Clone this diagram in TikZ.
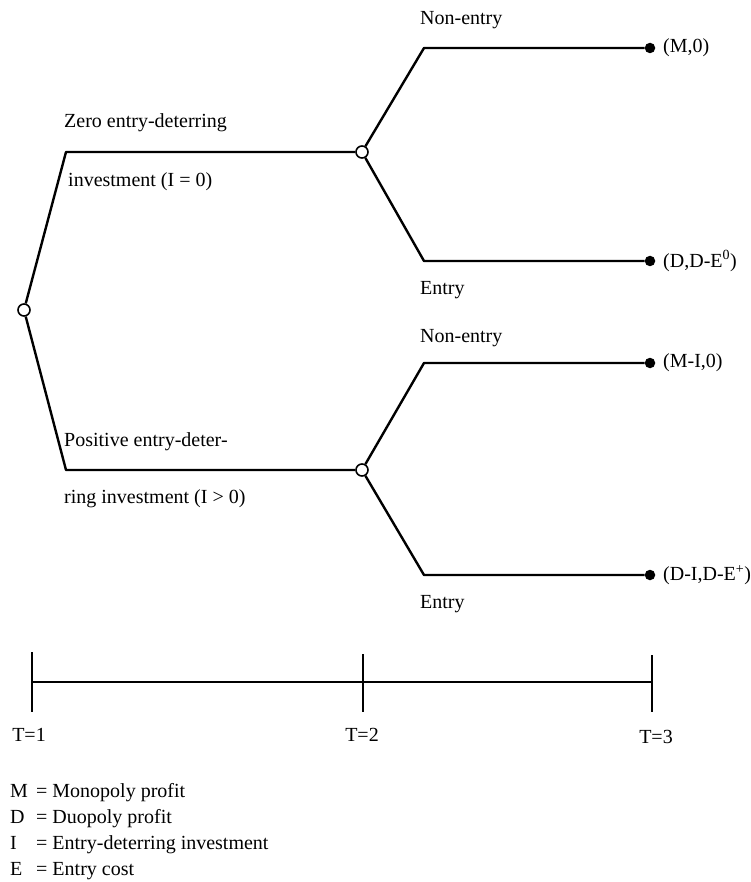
\documentclass[tikz,border=0pt]{standalone}
\usepackage{fontspec}
\setmainfont{Liberation Serif}
\begin{document}
\begin{tikzpicture}[x=1pt,y=-1pt,
  branch/.style={line width=2.4pt, line join=round},
  tick/.style={line width=1.4pt},
  decision/.style={circle, draw, fill=white, line width=1.6pt, minimum size=12pt, inner sep=0pt},
  payoff/.style={circle, fill=black, minimum size=10.5pt, inner sep=0pt},
  lbl/.style={anchor=west, inner sep=0pt, font=\fontsize{20}{24}\selectfont},
]
\useasboundingbox (0,0) rectangle (751,882);

% decision nodes
\node[decision] (R)  at (24,310) {};
\node[decision] (N1) at (362,152) {};
\node[decision] (N2) at (362,470) {};

% terminal payoffs
\node[payoff] (P1) at (650,48) {};
\node[payoff] (P2) at (650,261) {};
\node[payoff] (P3) at (650,363) {};
\node[payoff] (P4) at (650,575) {};

% branch corners
\coordinate (c1) at (66,152);
\coordinate (c2) at (66,470);
\coordinate (u1) at (424,48);
\coordinate (d1) at (424,261);
\coordinate (u2) at (424,363);
\coordinate (d2) at (424,575);

% branches
\draw[branch] (R) -- (c1) -- (N1);
\draw[branch] (R) -- (c2) -- (N2);
\draw[branch] (N1) -- (u1) -- (P1);
\draw[branch] (N1) -- (d1) -- (P2);
\draw[branch] (N2) -- (u2) -- (P3);
\draw[branch] (N2) -- (d2) -- (P4);

% branch labels
\node[lbl] (l1) at (64,123) {Zero entry-deterring};
\node[lbl] (l2) at (68,182) {investment (I = 0)};
\node[lbl] (l3) at (64,442) {Positive entry-deter-};
\node[lbl] (l4) at (64,499) {ring investment (I > 0)};
\node[lbl] (l5) at (420,20) {Non-entry};
\node[lbl] (l6) at (420,290) {Entry};
\node[lbl] (l7) at (420,338) {Non-entry};
\node[lbl] (l8) at (420,604) {Entry};

% payoff labels
\node[lbl] (q1) at (663,48) {(M,0)};
\node[lbl] (q2) at (663,261) {(D,D-E\textsuperscript{0})};
\node[lbl] (q3) at (663,363) {(M-I,0)};
\node[lbl] (q4) at (663,575) {(D-I,D-E\textsuperscript{+})};

% time axis
\coordinate (t1) at (32,682);
\coordinate (t2) at (363,682);
\coordinate (t3) at (652,682);
\coordinate (t1a) at (32,652);
\coordinate (t1b) at (32,712);
\coordinate (t2a) at (363,654);
\coordinate (t2b) at (363,712);
\coordinate (t3a) at (652,655);
\coordinate (t3b) at (652,712);
\draw[branch] (t1) -- (t2) -- (t3);
\draw[tick] (t1a) -- (t1b);
\draw[tick] (t2a) -- (t2b);
\draw[tick] (t3a) -- (t3b);
\node[lbl, anchor=center] (T1) at (29,735) {T=1};
\node[lbl, anchor=center] (T2) at (362,735) {T=2};
\node[lbl, anchor=center] (T3) at (656,737) {T=3};

% legend
\node[lbl] (k1) at (10,793) {\makebox[26pt][l]{M}= Monopoly profit};
\node[lbl] (k2) at (10,819) {\makebox[26pt][l]{D}= Duopoly profit};
\node[lbl] (k3) at (10,845) {\makebox[26pt][l]{I}= Entry-deterring investment};
\node[lbl] (k4) at (10,871) {\makebox[26pt][l]{E}= Entry cost};
\end{tikzpicture}
\end{document}
